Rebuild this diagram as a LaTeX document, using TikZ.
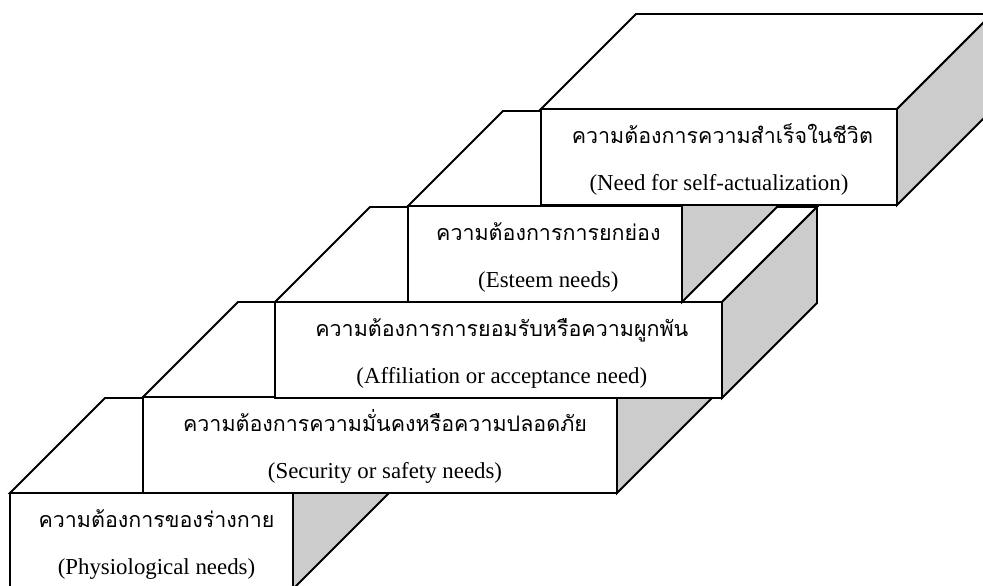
\documentclass[tikz,border=0pt]{standalone}
\usepackage{fontspec}
\setmainfont{Liberation Serif}
\newfontfamily\thaifont[Script=Thai]{Loma}
\usepackage{tikz}
\usetikzlibrary{positioning}

\begin{document}
\begin{tikzpicture}[
  x=0.3mm, y=-0.3mm,
  face/.style={rectangle, draw, fill=white, line width=1.6pt, inner sep=0pt,
               outer sep=0pt, anchor=north west, minimum height=28.8mm},
  topface/.style={draw, fill=white, line width=1.6pt},
  sideface/.style={draw, fill=gray!40, line width=1.6pt},
  thline/.style={anchor=base, inner sep=0pt, font=\thaifont\fontsize{18.3}{21}\selectfont},
  enline/.style={anchor=base, inner sep=0pt, font=\fontsize{19.5}{23}\selectfont},
]
  \useasboundingbox (0,0) rectangle (983,585);
  \clip (0,0) rectangle (983,585);

  % step 1
  \node[face, minimum width=84.9mm] (phys) at (10,493) {};
  \draw[topface] (phys.north west) -- ++(95,-95) -- ([shift={(95,-95)}]phys.north east) -- (phys.north east) -- cycle;
  \draw[sideface] (phys.north east) -- ++(95,-95) -- ([shift={(95,-95)}]phys.south east) -- (phys.south east) -- cycle;
  \node[thline] (phys-th) at ([xshift=1.5mm, yshift=-10.2mm]phys.north) {ความต้องการของร่างกาย};
  \node[enline] (phys-en) at ([xshift=1.5mm, yshift=-24.3mm]phys.north) {(Physiological needs)};

  % step 2
  \node[face, minimum width=142.2mm] (safe) at (143,397) {};
  \draw[topface] (safe.north west) -- ++(95,-95) -- ([shift={(95,-95)}]safe.north east) -- (safe.north east) -- cycle;
  \draw[sideface] (safe.north east) -- ++(95,-95) -- ([shift={(95,-95)}]safe.south east) -- (safe.south east) -- cycle;
  \node[thline] (safe-th) at ([xshift=1.5mm, yshift=-10.2mm]safe.north) {ความต้องการความมั่นคงหรือความปลอดภัย};
  \node[enline] (safe-en) at ([xshift=1.5mm, yshift=-24.3mm]safe.north) {(Security or safety needs)};

  % step 3
  \node[face, minimum width=134.1mm] (love) at (275,302) {};
  \draw[topface] (love.north west) -- ++(95,-95) -- ([shift={(95,-95)}]love.north east) -- (love.north east) -- cycle;
  \draw[sideface] (love.north east) -- ++(95,-95) -- ([shift={(95,-95)}]love.south east) -- (love.south east) -- cycle;
  \node[thline] (love-th) at ([xshift=1mm, yshift=-10.2mm]love.north) {ความต้องการการยอมรับหรือความผูกพัน};
  \node[enline] (love-en) at ([xshift=1mm, yshift=-24.3mm]love.north) {(Affiliation or acceptance need)};

  % step 4
  \node[face, minimum width=82.2mm] (esteem) at (408,206) {};
  \draw[topface] (esteem.north west) -- ++(95,-95) -- ([shift={(95,-95)}]esteem.north east) -- (esteem.north east) -- cycle;
  \draw[sideface] (esteem.north east) -- ++(95,-95) -- ([shift={(95,-95)}]esteem.south east) -- (esteem.south east) -- cycle;
  \node[thline] (esteem-th) at ([xshift=1mm, yshift=-10.2mm]esteem.north) {ความต้องการการยกย่อง};
  \node[enline] (esteem-en) at ([xshift=1mm, yshift=-24.3mm]esteem.north) {(Esteem needs)};

  % step 5
  \node[face, minimum width=106.8mm] (self) at (541,109) {};
  \draw[topface] (self.north west) -- ++(95,-95) -- ([shift={(95,-95)}]self.north east) -- (self.north east) -- cycle;
  \draw[sideface] (self.north east) -- ++(95,-95) -- ([shift={(95,-95)}]self.south east) -- (self.south east) -- cycle;
  \node[thline] (self-th) at ([xshift=1mm, yshift=-10.2mm]self.north) {ความต้องการความสำเร็จในชีวิต};
  \node[enline] (self-en) at ([yshift=-24.3mm]self.north) {(Need for self-actualization)};
\end{tikzpicture}
\end{document}
